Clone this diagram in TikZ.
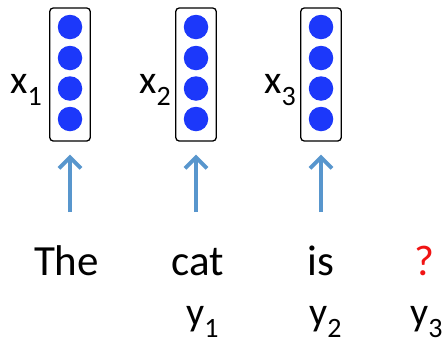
\documentclass[tikz,border=0pt]{standalone}
\usepackage{fontspec}
\setmainfont{Carlito}
\usepackage{xcolor}
\usepackage{tikz}
\usetikzlibrary{arrows.meta, positioning}
\definecolor{RNNDot}{RGB}{28, 56, 250}
\definecolor{RNNArrow}{RGB}{88, 150, 205}
\definecolor{RNNQuery}{RGB}{240, 20, 20}
\newcommand{\subidx}[1]{\raisebox{-0.3em}{\fontsize{28}{28}\selectfont #1}}

\begin{document}
\begin{tikzpicture}[x=1pt, y=-1pt,
    vecbox/.style={draw=black, line width=1.3pt, rounded corners=3.5pt,
      minimum width=40.5pt, minimum height=133pt, inner sep=0pt},
    unit/.style={circle, fill=RNNDot, minimum size=24.5pt, inner sep=0pt},
    veclabel/.style={anchor=base east, inner sep=0pt, font=\fontsize{40}{44}\selectfont},
    word/.style={anchor=base, inner sep=0pt, font=\fontsize{43}{48}\selectfont},
    outlabel/.style={anchor=base west, inner sep=0pt, font=\fontsize{40}{44}\selectfont},
    inarrow/.style={draw=RNNArrow, line width=3.8pt, shorten >=13pt,
      -{Straight Barb[length=11pt, width=22pt]}}
  ]
  \useasboundingbox (0,0) rectangle (446,346);

  % word vectors x_1 .. x_3
  \foreach \i/\cx/\lx in {1/70/42, 2/196/171, 3/321/296} {
    \node[vecbox] (vec\i) at (\cx,74.5) {};
    \node[unit] (vec\i-1) at (\cx,27) {};
    \node[unit] (vec\i-2) at (\cx,58) {};
    \node[unit] (vec\i-3) at (\cx,88.5) {};
    \node[unit] (vec\i-4) at (\cx,119) {};
    \node[veclabel] (lbl\i) at (\lx,93) {x\subidx{\i}};
    \coordinate (in\i) at (\cx,212);
    \draw[inarrow] (in\i) -- (vec\i.south);
  }

  % input words
  \node[word] (w1) at (66.5,275) {The};
  \node[word] (w2) at (198,275) {cat};
  \node[word] (w3) at (321,275) {is};
  \node[word, text=RNNQuery] (w4) at (424,275) {?};

  % targets
  \node[outlabel] (out1) at (186,325) {y\subidx{1}};
  \node[outlabel] (out2) at (309,325) {y\subidx{2}};
  \node[outlabel] (out3) at (410,325) {y\subidx{3}};
\end{tikzpicture}
\end{document}
